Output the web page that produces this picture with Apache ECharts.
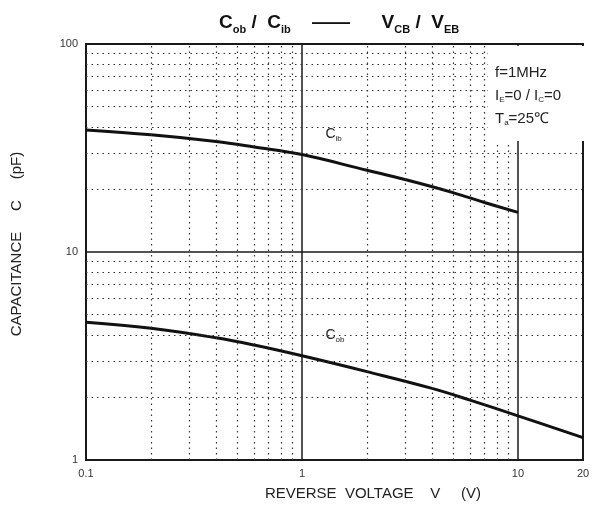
<!DOCTYPE html>
<html lang="en">
<head>
  <meta charset="UTF-8">
  <title>Cob / Cib</title>
  <script src="https://cdn.jsdelivr.net/npm/echarts@6/dist/echarts.min.js"></script>
  <style>
    html, body { margin: 0; padding: 0; background: #fff; }
  </style>
</head>
<body>
<div id="main" style="width:595px;height:506px;"></div>
<script type="text/javascript">
  // values
  var cibVoltage = [0.1, 0.2, 0.4, 0.6, 1, 2, 3, 5, 7, 10];
  var cibCap     = [38.6, 36.6, 34.0, 32.0, 29.4, 24.7, 22.3, 19.3, 17.3, 15.5];
  var cobVoltage = [0.1, 0.2, 0.4, 0.6, 1, 2, 4, 6, 10, 20];
  var cobCap     = [4.6, 4.3, 3.87, 3.57, 3.17, 2.66, 2.21, 1.94, 1.63, 1.28];

  // dotted minor grid positions
  var minorX = [0.2, 0.3, 0.4, 0.5, 0.6, 0.7, 0.8, 0.9, 2, 3, 4, 5, 6, 7, 8, 9];
  var minorY = [2, 3, 4, 5, 6, 7, 8, 9, 20, 30, 40, 50, 60, 70, 80, 90];

  var pairs = function (xs, ys) {
    return xs.map(function (x, i) { return [x, ys[i]]; });
  };

  var minorLines = minorX.map(function (v) { return { xAxis: v }; })
    .concat(minorY.map(function (v) { return { yAxis: v }; }));

  var myChart = echarts.init(document.getElementById('main'));
  var font = 'Liberation Sans, Arial, sans-serif';

  var curveLabel = function (sub) {
    return {
      show: true,
      formatter: '{c|C}{s|' + sub + '}',
      rich: {
        c: { fontSize: 14, color: '#222', fontFamily: font },
        s: { fontSize: 8, color: '#222', fontFamily: font, padding: [10, 0, 0, 0] }
      }
    };
  };

  myChart.setOption({
    animation: false,
    textStyle: { fontFamily: font },
    title: {
      left: 214,
      top: 6,
      text: '{b|C}{s|ob}{b| /  C}{s|ib}{b|    ——      V}{s|CB}{b| /  V}{s|EB}',
      textStyle: {
        rich: {
          b: { fontSize: 19, fontWeight: 'bold', color: '#111', fontFamily: font },
          s: { fontSize: 11, fontWeight: 'bold', color: '#111', fontFamily: font, padding: [13, 0, 0, 0] }
        }
      }
    },
    grid: {
      left: 86, right: 12, top: 44, bottom: 46,
      show: true, borderColor: '#1a1a1a', borderWidth: 2,
      backgroundColor: 'transparent'
    },
    xAxis: {
      type: 'log',
      logBase: 10,
      min: 0.1,
      max: 20,
      name: 'REVERSE  VOLTAGE    V     (V)',
      nameLocation: 'middle',
      nameGap: 26,
      nameTextStyle: { fontSize: 15, color: '#222', padding: [0, 0, 0, 77] },
      axisLine: { lineStyle: { color: '#1a1a1a', width: 2 } },
      axisTick: { show: false },
      axisLabel: { fontSize: 11, color: '#333', margin: 8 },
      splitLine: { show: true, lineStyle: { color: '#1a1a1a', width: 1.5 } },
      minorSplitLine: { show: false }
    },
    yAxis: {
      type: 'log',
      logBase: 10,
      min: 1,
      max: 100,
      name: 'CAPACITANCE     C     (pF)',
      nameLocation: 'middle',
      nameGap: 62,
      nameTextStyle: { fontSize: 15, color: '#222', padding: [0, 0, 0, 16] },
      axisLine: { lineStyle: { color: '#1a1a1a', width: 2 } },
      axisTick: { show: false },
      axisLabel: { fontSize: 11, color: '#333', margin: 8 },
      splitLine: { show: true, lineStyle: { color: '#1a1a1a', width: 1.5 } }
    },
    graphic: [
      {
        type: 'rect', z: 10,
        shape: { x: 488, y: 46, width: 97, height: 95 },
        style: { fill: '#fff' }
      },
      {
        type: 'text', z: 11, left: 495, top: 61,
        style: {
          text: '{n|f=1MHz}\n{n|I}{s|E}{n|=0 / I}{s|C}{n|=0}\n{n|T}{s|a}{n|=25℃}',
          font: '15px ' + font, fill: '#222', lineHeight: 23,
          rich: {
            n: { fontSize: 15, fill: '#222', fontFamily: font, lineHeight: 23 },
            s: { fontSize: 8, fill: '#222', fontFamily: font, padding: [9, 0, 0, 0] }
          }
        }
      }
    ],
    series: [
      {
        name: 'Cib',
        type: 'line',
        smooth: 0.4,
        symbol: 'none',
        lineStyle: { color: '#111', width: 3 },
        data: pairs(cibVoltage, cibCap),
        markLine: {
          silent: true,
          symbol: 'none',
          label: { show: false },
          lineStyle: { color: '#333', width: 1.2, type: [1.5, 4] },
          data: minorLines
        },
        markPoint: {
          symbolSize: 0,
          label: curveLabel('ib'),
          data: [{ coord: [1.4, 37] }]
        }
      },
      {
        name: 'Cob',
        type: 'line',
        smooth: 0.4,
        symbol: 'none',
        lineStyle: { color: '#111', width: 3 },
        data: pairs(cobVoltage, cobCap),
        markPoint: {
          symbolSize: 0,
          label: curveLabel('ob'),
          data: [{ coord: [1.42, 4.0] }]
        }
      }
    ]
  });
</script>
</body>
</html>
